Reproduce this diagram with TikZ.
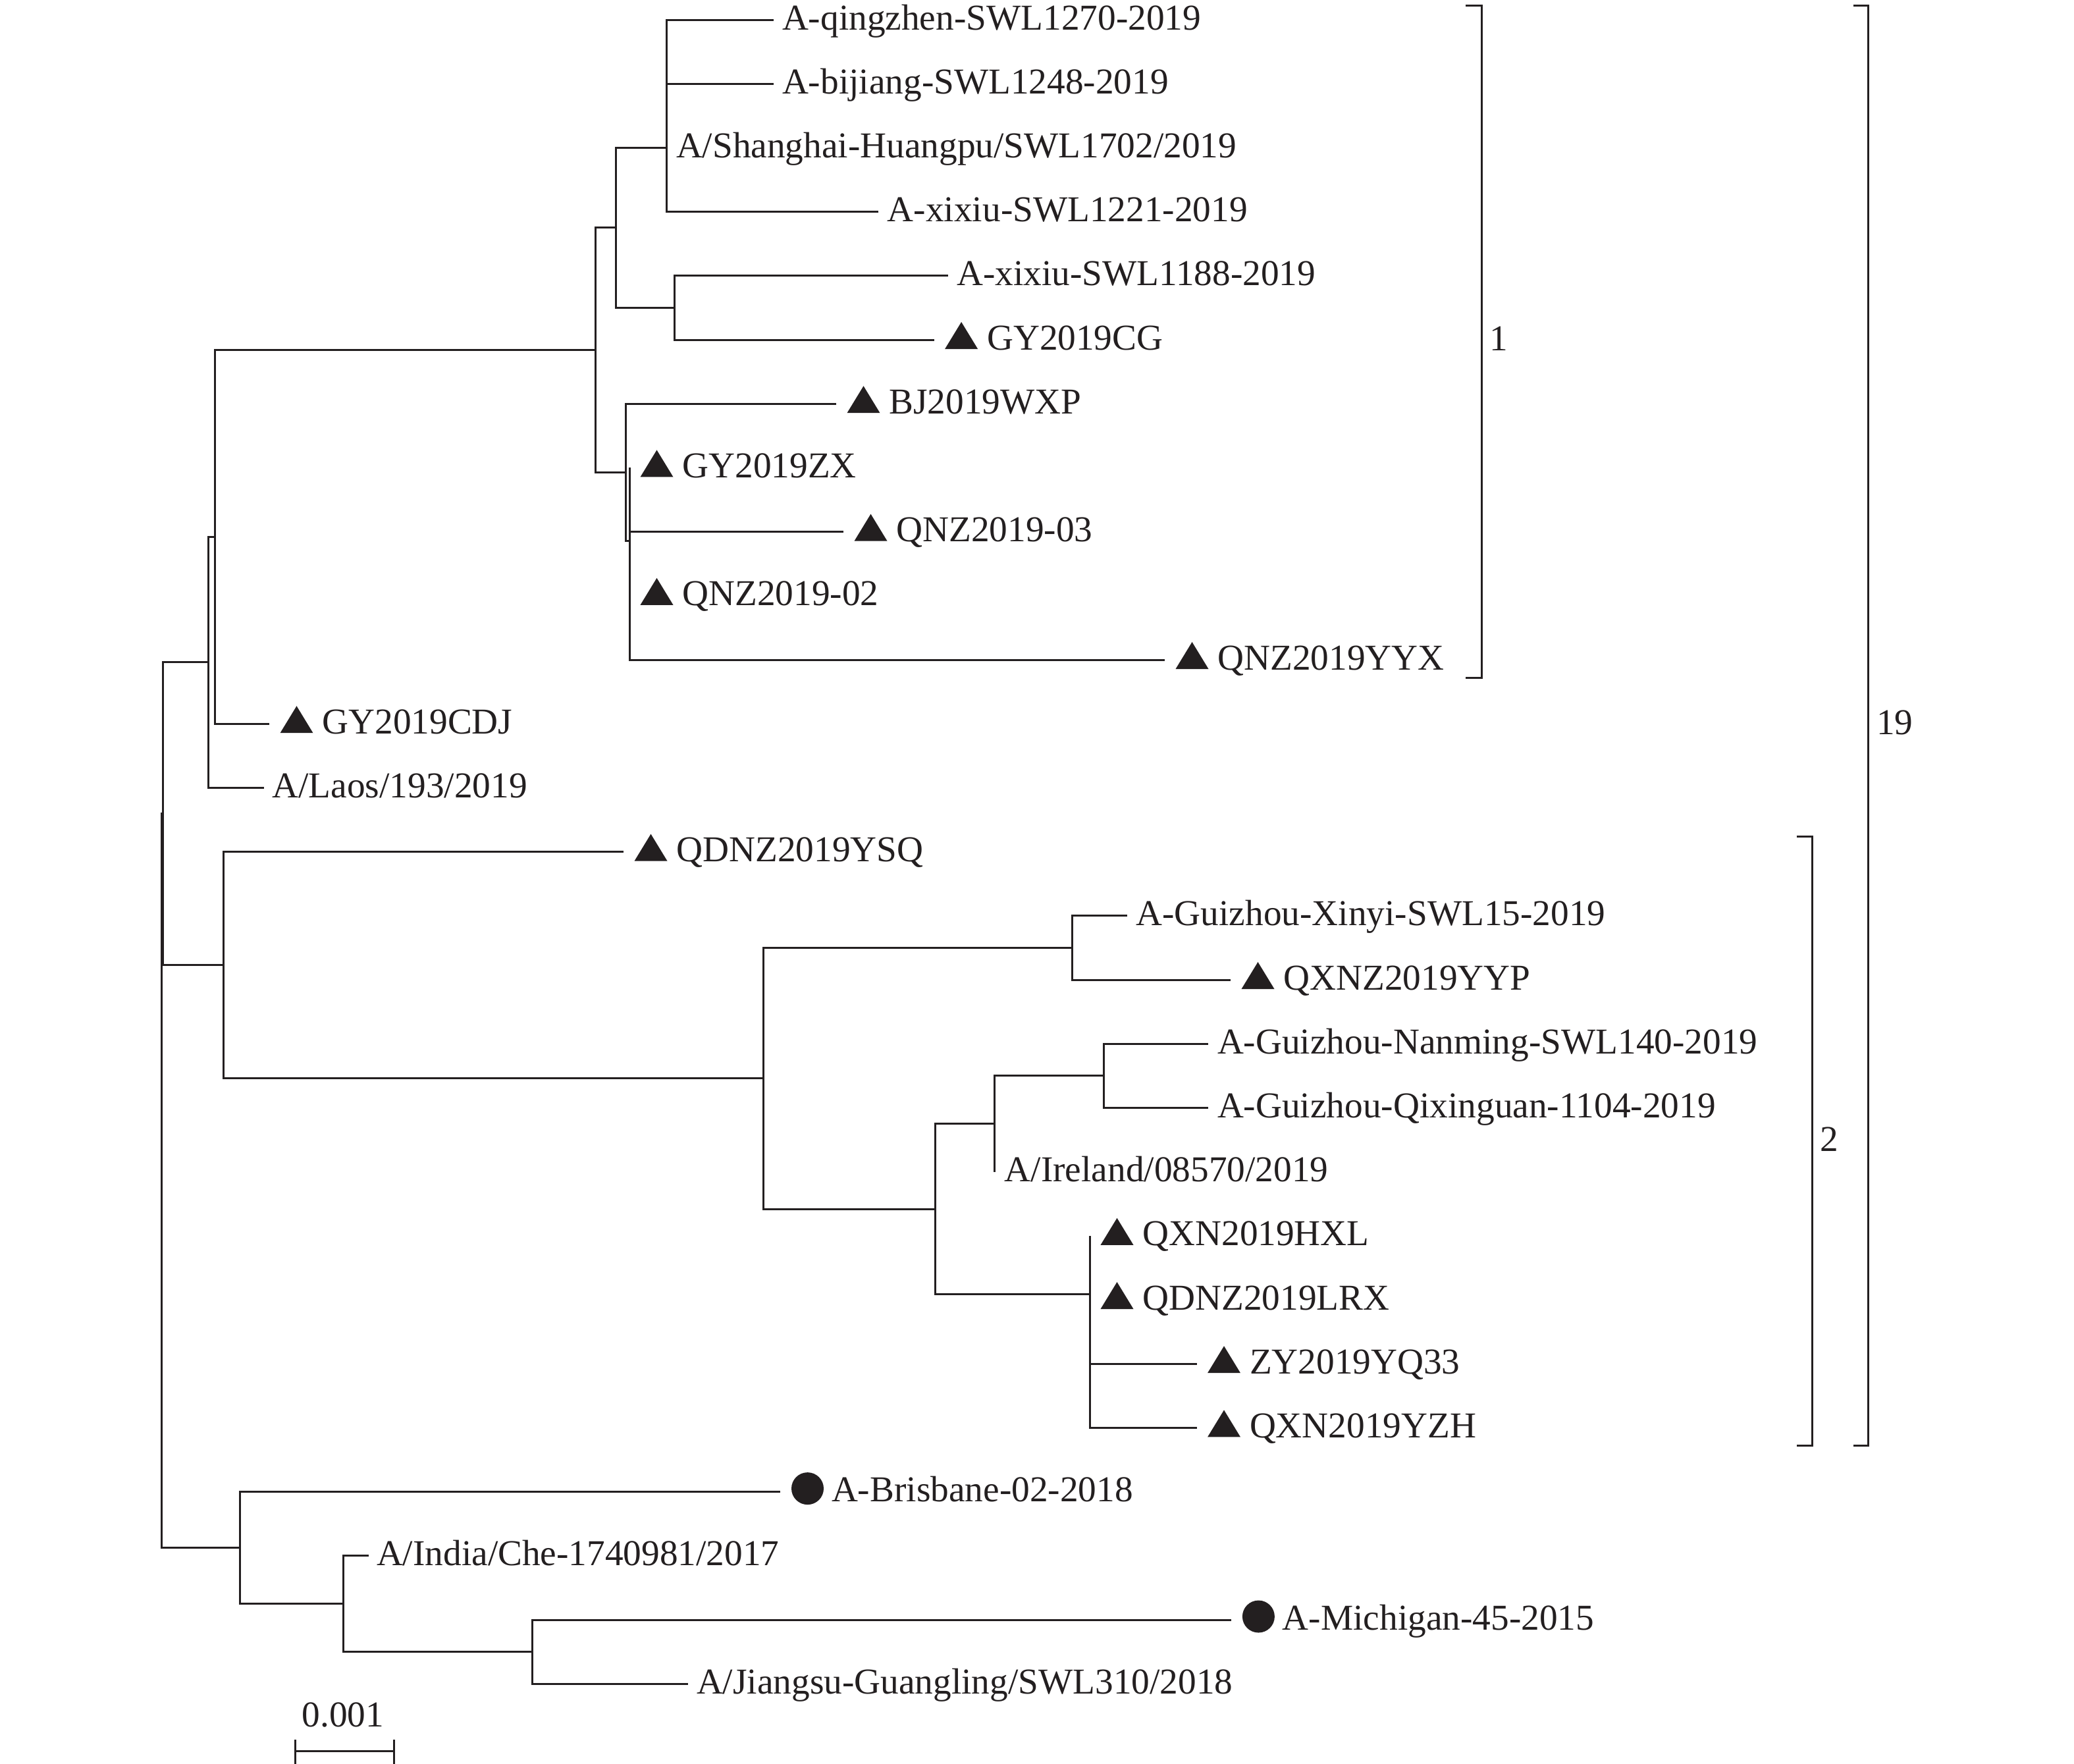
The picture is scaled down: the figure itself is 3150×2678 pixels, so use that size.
\documentclass[tikz,border=0pt]{standalone}
\usepackage{fontspec}
\setmainfont{Liberation Serif}
\usetikzlibrary{calc}
\definecolor{ink}{RGB}{35,31,32}
\tikzset{
  br/.style={draw=ink, line width=0.3mm, line join=miter},
  lab/.style={anchor=base west, inner sep=0pt, outer sep=0pt, text=ink, font=\fontsize{15.74pt}{19pt}\selectfont},
  tri/.pic={\fill[ink] (0,-1.4mm) -- (5mm,-1.4mm) -- (2.5mm,2.7mm) -- cycle;},
}
\begin{document}
\begin{tikzpicture}[x=0.1mm,y=-0.1mm]
\useasboundingbox (0,0) rectangle (3150,2678);
% internal nodes
\coordinate (R0) at (245,1793);
\coordinate (R1) at (247.5,1235.7);
\coordinate (N158) at (316,1005.7);
\coordinate (N163) at (326,815);
\coordinate (N449) at (904,531.5);
\coordinate (N467) at (935,345.9);
\coordinate (N503) at (1012,224.4);
\coordinate (N511) at (1024,467.4);
\coordinate (N951) at (950,717);
\coordinate (N956) at (956,821);
\coordinate (N170) at (339,1465.6);
\coordinate (N577) at (1159.5,1637.7);
\coordinate (N810) at (1628,1439.4);
\coordinate (N708) at (1420,1836);
\coordinate (N752) at (1510.7,1706.7);
\coordinate (N835) at (1676,1633.8);
\coordinate (N826) at (1655,1965);
\coordinate (N181) at (364,2350.6);
\coordinate (N260) at (521,2435.7);
\coordinate (N403) at (808,2508.6);
% leaf ends
\coordinate (L0) at (1174.5,30);
\coordinate (L1) at (1174.5,127.2);
\coordinate (L2) at (1012,224.4);
\coordinate (L3) at (1334.4,321.6);
\coordinate (L4) at (1439.6,418.8);
\coordinate (L5) at (1418.6,516);
\coordinate (L6) at (1270,613.2);
\coordinate (L7) at (956,710.4);
\coordinate (L8) at (1281,807.6);
\coordinate (L9) at (956,904.8);
\coordinate (L10) at (1769,1002);
\coordinate (L11) at (409,1099.2);
\coordinate (L12) at (400.5,1196.4);
\coordinate (L13) at (947,1293.6);
\coordinate (L14) at (1712,1390.8);
\coordinate (L15) at (1869,1488);
\coordinate (L16) at (1835,1585.2);
\coordinate (L17) at (1835,1682.4);
\coordinate (L18) at (1510.7,1779.6);
\coordinate (L19) at (1655,1876.8);
\coordinate (L20) at (1655,1974);
\coordinate (L21) at (1817.5,2071.2);
\coordinate (L22) at (1817.5,2168.4);
\coordinate (L23) at (1185,2265.6);
\coordinate (L24) at (560,2362.8);
\coordinate (L25) at (1870.4,2460);
\coordinate (L26) at (1045,2557.2);
% branches
\foreach \c/\p in {L0/N503,L1/N503,L2/N503,L3/N503,N503/N467,
  L4/N511,L5/N511,N511/N467,N467/N449,
  L6/N951,L7/N956,L8/N956,L9/N956,L10/N956,N956/N951,N951/N449,
  N449/N163,L11/N163,N163/N158,L12/N158,N158/R1,
  L13/N170,L14/N810,L15/N810,N810/N577,
  L16/N835,L17/N835,N835/N752,L18/N752,N752/N708,
  L19/N826,L20/N826,L21/N826,L22/N826,N826/N708,N708/N577,N577/N170,
  N170/R1,R1/R0,
  L23/N181,L24/N260,L25/N403,L26/N403,N403/N260,N260/N181,N181/R0}
  {\draw[br] (\c) -| (\p);}
% plain labels
\node[lab] (t0) at ([xshift=1.35mm,yshift=-1.5mm]L0) {A-qingzhen-SWL1270-2019};
\node[lab] (t1) at ([xshift=1.35mm,yshift=-1.5mm]L1) {A-bijiang-SWL1248-2019};
\node[lab] (t2) at ([xshift=1.5mm,yshift=-1.5mm]L2) {A/Shanghai-Huangpu/SWL1702/2019};
\node[lab] (t3) at ([xshift=1.35mm,yshift=-1.5mm]L3) {A-xixiu-SWL1221-2019};
\node[lab] (t4) at ([xshift=1.35mm,yshift=-1.5mm]L4) {A-xixiu-SWL1188-2019};
\node[lab] (t12) at ([xshift=1.3mm,yshift=-1.5mm]L12) {A/Laos/193/2019};
\node[lab] (t14) at ([xshift=1.35mm,yshift=-1.5mm]L14) {A-Guizhou-Xinyi-SWL15-2019};
\node[lab] (t16) at ([xshift=1.4mm,yshift=-1.5mm]L16) {A-Guizhou-Nanming-SWL140-2019};
\node[lab] (t17) at ([xshift=1.4mm,yshift=-1.5mm]L17) {A-Guizhou-Qixinguan-1104-2019};
\node[lab] (t18) at ([xshift=1.5mm,yshift=-1.5mm]L18) {A/Ireland/08570/2019};
\node[lab] (t24) at ([xshift=1.2mm,yshift=-1.5mm]L24) {A/India/Che-1740981/2017};
\node[lab] (t26) at ([xshift=1.3mm,yshift=-1.5mm]L26) {A/Jiangsu-Guangling/SWL310/2018};
% triangle labels
\foreach \l/\t in {L5/GY2019CG,L6/BJ2019WXP,L7/GY2019ZX,L8/QNZ2019-03,L9/QNZ2019-02,
  L10/QNZ2019YYX,L11/GY2019CDJ,L13/QDNZ2019YSQ,L15/QXNZ2019YYP,
  L19/QXN2019HXL,L20/QDNZ2019LRX,L21/ZY2019YQ33,L22/QXN2019YZH}
  {\pic at ([xshift=1.65mm]\l) {tri};
   \node[lab] (t\l) at ([xshift=8.05mm,yshift=-1.5mm]\l) {\t};}
% circle labels
\fill[ink] ([xshift=4.15mm,yshift=0.5mm]L23) circle (2.45mm);
\node[lab] (t23) at ([xshift=7.8mm,yshift=-1.5mm]L23) {A-Brisbane-02-2018};
\fill[ink] ([xshift=4.1mm,yshift=0.5mm]L25) circle (2.45mm);
\node[lab] (t25) at ([xshift=7.75mm,yshift=-1.5mm]L25) {A-Michigan-45-2015};
% scale bar
\coordinate (sbL) at (448,2659);
\coordinate (sbR) at (598,2659);
\draw[br] (sbL) -- (sbR);
\draw[br] ([yshift=1.7mm]sbL) -- ([yshift=-2mm]sbL);
\draw[br] ([yshift=1.7mm]sbR) -- ([yshift=-2mm]sbR);
\node[lab, anchor=base] (sbt) at (521,2622) {0.001};
% brackets
\coordinate (b1t) at (2250,8);
\coordinate (b1b) at (2250,1029);
\draw[br] ([xshift=-2.4mm]b1t) -- (b1t) -- (b1b) -- ([xshift=-2.4mm]b1b);
\node[lab] (c1) at (2262,532) {1};
\coordinate (b2t) at (2752.7,1270);
\coordinate (b2b) at (2752.7,2195);
\draw[br] ([xshift=-2.4mm]b2t) -- (b2t) -- (b2b) -- ([xshift=-2.4mm]b2b);
\node[lab] (c2) at (2764,1748) {2};
\coordinate (b3t) at (2837.5,8);
\coordinate (b3b) at (2837.5,2195);
\draw[br] ([xshift=-2.3mm]b3t) -- (b3t) -- (b3b) -- ([xshift=-2.3mm]b3b);
\node[lab] (c19) at (2850,1115) {19};
\end{tikzpicture}
\end{document}
